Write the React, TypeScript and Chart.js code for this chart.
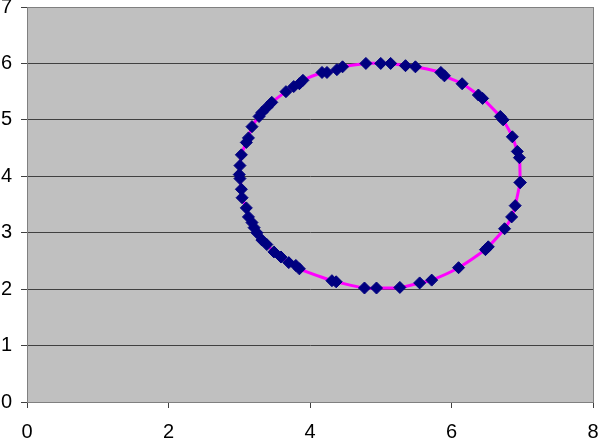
import React, { useEffect, useRef } from "react";
import { Chart, registerables } from "chart.js";

Chart.register(...registerables);

// Points, in order around the loop (x, y)
const xValues = [
  6.97, 6.96, 6.93, 6.86, 6.73, 6.69, 6.44, 6.38, 6.15, 5.9, 5.85, 5.49, 5.35, 5.14, 5.0, 4.79,
  4.46, 4.38, 4.24, 4.17, 3.9, 3.85, 3.77, 3.66, 3.46, 3.39, 3.32, 3.28, 3.18, 3.13, 3.1, 3.03,
  3.01, 3.0, 3.01, 3.03, 3.04, 3.1, 3.13, 3.18, 3.21, 3.25, 3.32, 3.39, 3.49, 3.59, 3.7, 3.8,
  3.85, 4.31, 4.37, 4.77, 4.94, 5.27, 5.55, 5.72, 6.1, 6.48, 6.52, 6.75, 6.85, 6.9, 6.97,
];
const yValues = [
  3.89, 4.33, 4.44, 4.7, 5.0, 5.06, 5.38, 5.44, 5.64, 5.78, 5.84, 5.94, 5.96, 6.0, 6.0, 6.0,
  5.94, 5.89, 5.84, 5.84, 5.7, 5.64, 5.59, 5.5, 5.31, 5.22, 5.13, 5.06, 4.88, 4.68, 4.6, 4.38,
  4.19, 4.03, 3.96, 3.77, 3.62, 3.44, 3.28, 3.18, 3.09, 3.0, 2.87, 2.79, 2.66, 2.57, 2.47, 2.42,
  2.36, 2.15, 2.13, 2.02, 2.02, 2.03, 2.11, 2.16, 2.38, 2.7, 2.75, 3.07, 3.28, 3.48, 3.89,
];
const xTickValues = [0, 2, 4, 6, 8];
const yTickValues = [0, 1, 2, 3, 4, 5, 6, 7];

const plotBg = {
  id: "plotBg",
  beforeDraw(chart: any) {
    const { ctx, chartArea: a } = chart;
    ctx.save();
    ctx.fillStyle = "#C0C0C0";
    ctx.fillRect(a.left, a.top, a.right - a.left, a.bottom - a.top);
    ctx.restore();
  },
  afterDatasetsDraw(chart: any) {
    const { ctx, chartArea: a } = chart;
    ctx.save();
    ctx.strokeStyle = "#808080";
    ctx.lineWidth = 1;
    ctx.strokeRect(Math.round(a.left) + 0.5, Math.round(a.top) + 0.5, Math.round(a.right - a.left), Math.round(a.bottom - a.top));
    ctx.restore();
  },
};

export default function App() {
  const ref = useRef<HTMLCanvasElement>(null);
  useEffect(() => {
    const data = xValues.map((x, i) => ({ x, y: yValues[i] }));
    const font = { family: "'Liberation Sans', Arial, sans-serif", size: 20 };
    const chart = new Chart(ref.current!, {
      type: "scatter",
      data: {
        datasets: [
          {
            data,
            showLine: true,
            borderColor: "#FF00FF",
            borderWidth: 3,
            tension: 0.4,
            pointStyle: "rectRot",
            pointRadius: 6,
            pointBackgroundColor: "#000080",
            pointBorderColor: "#000080",
            pointBorderWidth: 1,
          },
        ],
      },
      options: {
        animation: false,
        responsive: true,
        maintainAspectRatio: false,
        layout: { padding: { top: 7, right: 5, left: 0, bottom: 0 } },
        plugins: { legend: { display: false }, tooltip: { enabled: false } },
        scales: {
          x: {
            type: "linear",
            min: 0,
            max: 8,
            afterBuildTicks: (s: any) => {
              s.ticks = xTickValues.map((v) => ({ value: v }));
            },
            afterFit: (s: any) => {
              s.height = 38;
              s.paddingLeft = 0;
              s.paddingRight = 0;
            },
            ticks: { color: "#000", font, padding: 12, maxRotation: 0 },
            grid: { drawOnChartArea: false, drawTicks: true, tickLength: 6, color: "#404040" },
            border: { color: "#404040" },
          },
          y: {
            type: "linear",
            min: 0,
            max: 7,
            afterBuildTicks: (s: any) => {
              s.ticks = yTickValues.map((v) => ({ value: v }));
            },
            afterFit: (s: any) => {
              s.width = 27;
              s.paddingTop = 0;
              s.paddingBottom = 0;
            },
            ticks: { color: "#000", font, padding: 9 },
            grid: { drawOnChartArea: true, drawTicks: true, tickLength: 6, color: "#404040" },
            border: { color: "#404040" },
          },
        },
      },
      plugins: [plotBg],
    });
    return () => chart.destroy();
  }, []);
  return (
    <div style={{ position: "fixed", left: 0, top: 0, width: 600, height: 440, background: "#fff" }}>
      <canvas ref={ref} />
    </div>
  );
}
